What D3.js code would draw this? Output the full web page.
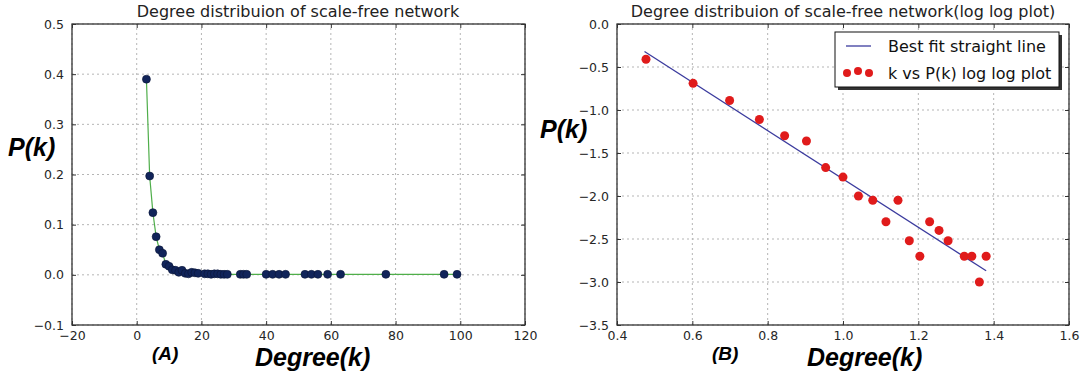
<!DOCTYPE html>
<html lang="en">
<head>
<meta charset="UTF-8">
<title>Degree distribution of scale-free network</title>
<script src="https://d3js.org/d3.v7.min.js"></script>
<style>
    body { margin: 0; background: #ffffff; }
    .tick text { font-family: "DejaVu Sans", sans-serif; font-size: 12.5px; fill: #262626; }
    .title { font-family: "DejaVu Sans", sans-serif; font-size: 16px; fill: #222; }
    .big { font-family: "Liberation Sans", Arial, sans-serif; font-weight: bold; font-style: italic; font-size: 25px; fill: #000; }
    .legend { font-family: "DejaVu Sans", sans-serif; font-size: 16px; fill: #111; }
</style>
</head>
<body>
<svg width="1083" height="379"></svg>
<script>
// ---- data (A): degree vs P(k)
const degrees = [3, 4, 5, 6, 7, 8, 9, 10, 11, 12, 13, 14, 15, 16, 17, 18, 19, 21, 22, 23, 24, 25, 26, 27, 28,
                 32, 33, 34, 40, 42, 44, 46, 52, 54, 56, 59, 63, 77, 95, 99];
const probs = [0.390, 0.197, 0.124, 0.076, 0.050, 0.043, 0.021, 0.017, 0.010, 0.009, 0.005, 0.009, 0.003,
               0.002, 0.005, 0.004, 0.003, 0.002, 0.002, 0.001, 0.002, 0.002, 0.001, 0.001, 0.001,
               0.001, 0.001, 0.001, 0.001, 0.001, 0.001, 0.001, 0.001, 0.001, 0.001, 0.001, 0.001, 0.001, 0.001, 0.001];

// ---- data (B): log log plot
const logDegree = [0.477, 0.602, 0.699, 0.778, 0.845, 0.903, 0.954, 1.000, 1.041, 1.079, 1.114, 1.146,
                   1.176, 1.204, 1.230, 1.255, 1.279, 1.322, 1.342, 1.362, 1.380];
const logProb = [-0.41, -0.69, -0.89, -1.11, -1.30, -1.36, -1.67, -1.78, -2.00, -2.05, -2.30, -2.05,
                 -2.52, -2.70, -2.30, -2.40, -2.52, -2.70, -2.70, -3.00, -2.70];
const fitX = [0.473, 1.380];
const fitY = [-0.32, -2.87];

// ---- ticks
const xTicksA = [-20, 0, 20, 40, 60, 80, 100, 120];
const yTicksA = [-0.1, 0.0, 0.1, 0.2, 0.3, 0.4, 0.5];
const xTicksB = [0.4, 0.6, 0.8, 1.0, 1.2, 1.4, 1.6];
const yTicksB = [-3.5, -3.0, -2.5, -2.0, -1.5, -1.0, -0.5, 0.0];

const svg = d3.select("svg");
const fmt1 = d => d3.format(".1f")(d).replace("-", "\u2212");
const fmt0 = d => d3.format("d")(d).replace("-", "\u2212");

function frame(x, y, xTicks, yTicks, fx, fy) {
    const [x0, x1] = x.range();
    const [y0, y1] = y.range();
    const g = svg.append("g");

    // grid
    g.selectAll(".gx").data(xTicks).enter().append("line")
        .attr("x1", d => x(d)).attr("x2", d => x(d)).attr("y1", y0).attr("y2", y1)
        .attr("stroke", "#b5b5b5").attr("stroke-dasharray", "2,3");
    g.selectAll(".gy").data(yTicks).enter().append("line")
        .attr("x1", x0).attr("x2", x1).attr("y1", d => y(d)).attr("y2", d => y(d))
        .attr("stroke", "#b5b5b5").attr("stroke-dasharray", "2,3");

    // axes with inward ticks
    const ax = [
        g.append("g").attr("transform", `translate(0,${y0})`)
            .call(d3.axisBottom(x).tickValues(xTicks).tickSize(-4).tickPadding(6).tickFormat(fx)),
        g.append("g").attr("transform", `translate(0,${y1})`)
            .call(d3.axisTop(x).tickValues(xTicks).tickSize(-4).tickFormat("")),
        g.append("g").attr("transform", `translate(${x0},0)`)
            .call(d3.axisLeft(y).tickValues(yTicks).tickSize(-4).tickPadding(8).tickFormat(fy)),
        g.append("g").attr("transform", `translate(${x1},0)`)
            .call(d3.axisRight(y).tickValues(yTicks).tickSize(-4).tickFormat(""))
    ];
    ax.forEach(a => { a.select(".domain").remove(); a.selectAll(".tick line").attr("stroke", "#333"); });

    g.append("rect").attr("x", x0).attr("y", y1).attr("width", x1 - x0).attr("height", y0 - y1)
        .attr("fill", "none").attr("stroke", "#333").attr("stroke-width", 1.3);
    return g;
}

// ---------- Plot A
const xA = d3.scaleLinear().domain([-20, 120]).range([72, 525]);
const yA = d3.scaleLinear().domain([-0.1, 0.5]).range([325, 24]);
frame(xA, yA, xTicksA, yTicksA, fmt0, fmt1);

const ptsA = degrees.map((k, i) => [k, probs[i]]);
svg.append("path").datum(ptsA)
    .attr("d", d3.line().x(d => xA(d[0])).y(d => yA(d[1])))
    .attr("fill", "none").attr("stroke", "#4fae4a").attr("stroke-width", 1.2);
svg.append("g").selectAll("circle").data(ptsA).enter().append("circle")
    .attr("cx", d => xA(d[0])).attr("cy", d => yA(d[1])).attr("r", 4)
    .attr("fill", "#11245a").attr("stroke", "#0a1638").attr("stroke-width", 0.6);

svg.append("text").attr("class", "title").attr("x", 298).attr("y", 17)
    .attr("text-anchor", "middle").text("Degree distribuion of scale-free network");
svg.append("text").attr("class", "big").attr("x", 8).attr("y", 156).text("P(k)");
svg.append("text").attr("class", "big").attr("x", 255).attr("y", 366).text("Degree(k)");
svg.append("text").attr("class", "big").attr("x", 152).attr("y", 360).style("font-size", "19px").text("(A)");

// ---------- Plot B
const xB = d3.scaleLinear().domain([0.4, 1.6]).range([617, 1069]);
const yB = d3.scaleLinear().domain([-3.5, 0]).range([325, 24]);
frame(xB, yB, xTicksB, yTicksB, fmt1, fmt1);

svg.append("path").datum(fitX.map((v, i) => [v, fitY[i]]))
    .attr("d", d3.line().x(d => xB(d[0])).y(d => yB(d[1])))
    .attr("fill", "none").attr("stroke", "#3b3b9e").attr("stroke-width", 1.3);
svg.append("g").selectAll("circle").data(logDegree).enter().append("circle")
    .attr("cx", d => xB(d)).attr("cy", (d, i) => yB(logProb[i])).attr("r", 4.5)
    .attr("fill", "#e01b1b");

svg.append("text").attr("class", "title").attr("x", 843).attr("y", 17)
    .attr("text-anchor", "middle").text("Degree distribuion of scale-free network(log log plot)");
svg.append("text").attr("class", "big").attr("x", 540).attr("y", 138).text("P(k)");
svg.append("text").attr("class", "big").attr("x", 807).attr("y", 366).text("Degree(k)");
svg.append("text").attr("class", "big").attr("x", 712).attr("y", 360).style("font-size", "19px").text("(B)");

// legend
const lg = svg.append("g");
lg.append("rect").attr("x", 838).attr("y", 35).attr("width", 224).attr("height", 55).attr("fill", "#333");
lg.append("rect").attr("x", 835).attr("y", 32).attr("width", 224).attr("height", 55)
    .attr("fill", "#fff").attr("stroke", "#111").attr("stroke-width", 1);
lg.append("line").attr("x1", 846).attr("x2", 871).attr("y1", 46).attr("y2", 46)
    .attr("stroke", "#3b3b9e").attr("stroke-width", 1.3);
lg.selectAll(".ld").data([[847, 73], [858, 71], [869, 73]]).enter().append("circle")
    .attr("cx", d => d[0]).attr("cy", d => d[1]).attr("r", 4).attr("fill", "#e01b1b");
lg.append("text").attr("class", "legend").attr("x", 888).attr("y", 52).text("Best fit straight line");
lg.append("text").attr("class", "legend").attr("x", 888).attr("y", 79).text("k vs P(k) log log plot");
</script>
</body>
</html>
